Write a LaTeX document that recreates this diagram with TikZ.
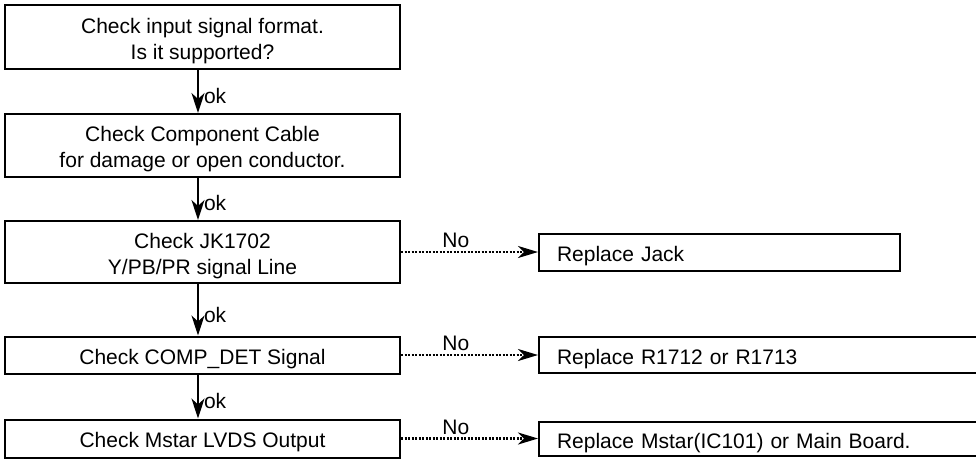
\documentclass[tikz,border=0pt]{standalone}
\usepackage{fontspec}
\setmainfont{Liberation Sans}
\usetikzlibrary{arrows.meta,positioning}
\tikzset{
  txt/.style={font=\fontsize{21}{26}\selectfont},
  chkbox/.style={draw, line width=2pt, txt, align=center, inner sep=0pt,
                 text height=23pt, minimum width=395pt},
  twoline/.style={text height=49pt},
  fixbox/.style={draw, line width=2pt, txt, align=left, inner xsep=18pt,
                 inner ysep=0pt, text height=24pt, anchor=west},
  okedge/.style={-{Stealth[length=20pt,width=13pt,inset=6pt]}, line width=2pt},
  noedge/.style={-{Stealth[length=20pt,width=12pt,inset=6pt]}, line width=2.2pt,
                 dash pattern=on 2pt off 1.5pt},
  edgelbl/.style={txt, inner sep=1pt},
}

\begin{document}
\begin{tikzpicture}[x=1pt,y=-1pt]
  \useasboundingbox (0,0) rectangle (976,459);
  \clip (0,0) rectangle (976,459);

  % checks
  \node[chkbox, twoline, minimum height=64pt] (fmt)   at (202.5,37)    {Check input signal format.\\Is it supported?};
  \node[chkbox, twoline, minimum height=63pt] (cable) at (202.5,145.5) {Check Component Cable\\for damage or open conductor.};
  \node[chkbox, twoline, minimum height=62pt] (jack)  at (202.5,252)   {Check JK1702\\Y/PB/PR signal Line};
  \node[chkbox, minimum height=37pt] (det)  at (202.5,355)   {Check COMP\_DET Signal};
  \node[chkbox, minimum height=38pt] (lvds) at (202.5,438.5) {Check Mstar LVDS Output};

  % repairs
  \node[fixbox, text width=325pt, minimum height=37pt] (fixjack) at (538,252)   {Replace Jack};
  \node[fixbox, text width=444pt, minimum height=36pt] (fixres)  at (538,355)   {Replace R1712 or R1713};
  \node[fixbox, text width=444pt, minimum height=34pt] (fixmain) at (538,438.5) {Replace Mstar(IC101) or Main Board.};

  % arrows sit a little left of the box centres
  \foreach \a/\b in {fmt/cable, cable/jack, jack/det, det/lvds}
    \draw[okedge] ([xshift=-4.5pt]\a.south) -- node[edgelbl, pos=0.6, anchor=west, xshift=4pt] {ok} ([xshift=-4.5pt]\b.north);

  \foreach \a/\b in {jack/fixjack, det/fixres, lvds/fixmain}
    \draw[noedge] (\a) -- node[edgelbl, pos=0.4, above=2pt] {No} (\b);
\end{tikzpicture}
\end{document}
